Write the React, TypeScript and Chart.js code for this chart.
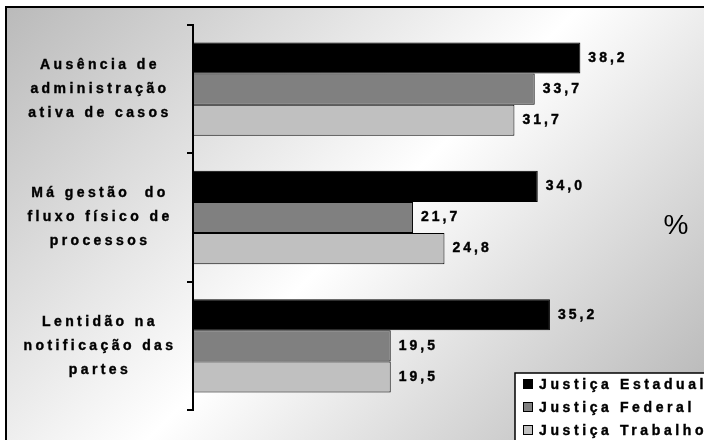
import { useEffect, useRef } from "react";
import { Chart, registerables } from "chart.js";

Chart.register(...registerables);

// Category labels, one entry per line of the wrapped label
const categories: string[][] = [
  ["Ausência de", "administração", "ativa de casos"],
  ["Má gestão  do", "fluxo físico de", "processos"],
  ["Lentidão na", "notificação das", "partes"],
];
const seriesNames = ["Justiça Estadual", "Justiça Federal", "Justiça Trabalho"];
const estadual = [38.2, 34.0, 35.2];
const federal = [33.7, 21.7, 19.5];
const trabalho = [31.7, 24.8, 19.5];
const seriesColors = ["#000000", "#808080", "#c0c0c0"];
const unitLabel = "%";

const FONT = "Arial, 'Liberation Sans', sans-serif";
const LABEL_FONT = `bold 14px ${FONT}`;

const fmt = (v: number) => v.toFixed(1).replace(".", ",");

// Heavy text: fill plus a thin stroke of the same colour
function heavyText(ctx: CanvasRenderingContext2D, text: string, x: number, y: number) {
  ctx.fillText(text, x, y);
  ctx.strokeText(text, x, y);
}

// Framed panel with a diagonal grey-white-grey gradient
const backgroundPlugin = {
  id: "panelBackground",
  beforeDraw(chart: any) {
    const { ctx, width, height } = chart;
    ctx.save();
    ctx.fillStyle = "#ffffff";
    ctx.fillRect(0, 0, width, height);
    const g = ctx.createLinearGradient(6, 7, 6 + 575, 7 + 575);
    g.addColorStop(0, "#bababa");
    g.addColorStop(0.5, "#ffffff");
    g.addColorStop(1, "#b0b0b0");
    ctx.fillStyle = g;
    ctx.fillRect(6, 7, width + 20, height + 20);
    ctx.strokeStyle = "#000000";
    ctx.lineWidth = 2;
    ctx.strokeRect(6, 7, width + 20, height + 20);
    ctx.restore();
  },
};

// Category labels, value labels, unit sign and legend box
const annotatePlugin = {
  id: "annotate",
  afterDatasetsDraw(chart: any) {
    const { ctx } = chart;
    const yScale = chart.scales.y;
    ctx.save();
    ctx.fillStyle = "#000000";
    ctx.strokeStyle = "#000000";
    ctx.lineWidth = 0.4;
    ctx.font = LABEL_FONT;
    (ctx as any).letterSpacing = "3.4px";
    ctx.textBaseline = "middle";

    // category labels
    ctx.textAlign = "center";
    categories.forEach((lines, i) => {
      const cy = yScale.getPixelForValue(i);
      lines.forEach((line, j) => {
        heavyText(ctx, line, 100, cy + (j - (lines.length - 1) / 2) * 24);
      });
    });

    // value labels
    (ctx as any).letterSpacing = "3px";
    ctx.textAlign = "left";
    chart.data.datasets.forEach((ds: any, di: number) => {
      const meta = chart.getDatasetMeta(di);
      meta.data.forEach((el: any, i: number) => {
        heavyText(ctx, fmt(ds.data[i]), el.x + 8, el.y);
      });
    });

    // unit sign
    (ctx as any).letterSpacing = "0px";
    ctx.font = `28px ${FONT}`;
    ctx.textAlign = "center";
    ctx.fillText(unitLabel, 676, 226);

    // legend
    const lx = 515;
    const ly = 373;
    ctx.fillStyle = "#ffffff";
    ctx.fillRect(lx, ly, 220, 100);
    ctx.lineWidth = 1.5;
    ctx.strokeRect(lx, ly, 220, 100);
    ctx.font = LABEL_FONT;
    (ctx as any).letterSpacing = "3.6px";
    ctx.textAlign = "left";
    seriesNames.forEach((name, i) => {
      const ry = 384 + i * 23;
      ctx.fillStyle = seriesColors[i];
      ctx.fillRect(523, ry - 5, 10, 10);
      ctx.strokeStyle = "#000000";
      ctx.lineWidth = 1;
      ctx.strokeRect(523.5, ry - 4.5, 9, 9);
      ctx.fillStyle = "#000000";
      ctx.lineWidth = 0.4;
      heavyText(ctx, name, 539, ry + 1);
    });
    ctx.restore();
  },
};

export default function App() {
  const canvasRef = useRef<HTMLCanvasElement | null>(null);

  useEffect(() => {
    if (!canvasRef.current) return;
    const seriesData = [estadual, federal, trabalho];
    const chart = new Chart(canvasRef.current, {
      type: "bar",
      data: {
        labels: categories.map((c) => c.join(" ")),
        datasets: seriesNames.map((name, i) => ({
          label: name,
          data: seriesData[i],
          backgroundColor: seriesColors[i],
          borderColor: "#000000",
          borderWidth: 1,
          borderSkipped: false,
          barPercentage: 1,
          categoryPercentage: 0.727,
        })),
      },
      options: {
        indexAxis: "y",
        responsive: false,
        animation: false,
        layout: { padding: { top: 25, bottom: 30, left: 0, right: 4 } },
        plugins: {
          legend: { display: false },
          tooltip: { enabled: false },
        },
        scales: {
          x: { min: 0, max: 50, display: false },
          y: {
            grid: {
              drawOnChartArea: false,
              drawTicks: true,
              tickLength: 6,
              color: "#000000",
              lineWidth: 2,
              offset: true,
            },
            border: { display: true, color: "#000000", width: 2 },
            ticks: { display: false },
            afterFit: (s: any) => {
              s.width = 193;
            },
          },
        },
      },
      plugins: [backgroundPlugin, annotatePlugin],
    } as any);
    return () => chart.destroy();
  }, []);

  return (
    <div style={{ position: "fixed", left: 0, top: 0, width: 704, height: 440 }}>
      <canvas ref={canvasRef} width={704} height={440} style={{ display: "block" }} />
    </div>
  );
}
